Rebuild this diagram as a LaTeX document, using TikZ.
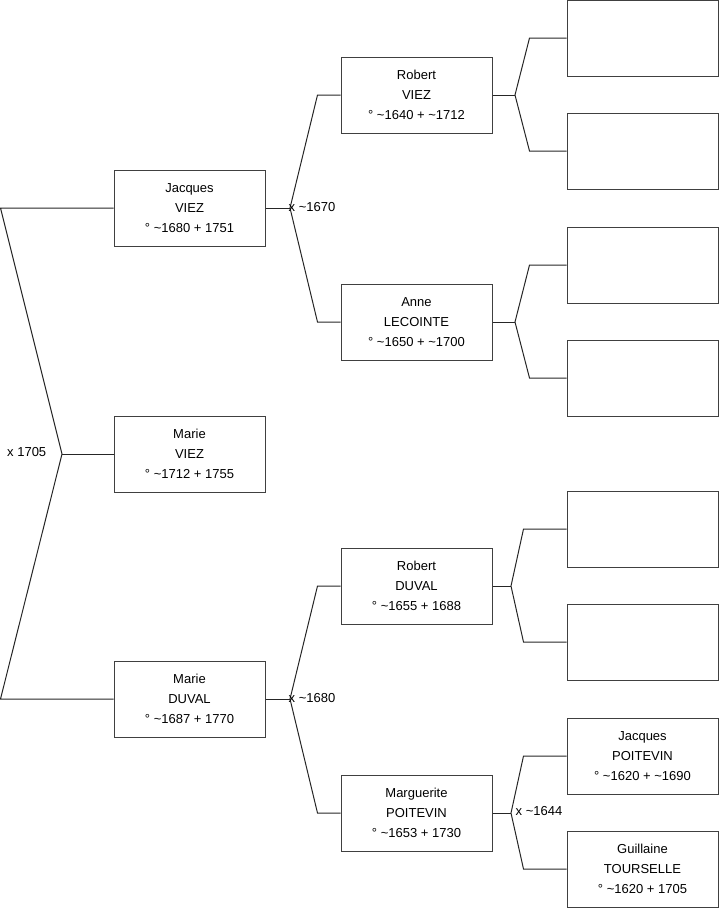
\documentclass[tikz,border=0pt]{standalone}
\usepackage{fontspec}
\setmainfont{Liberation Sans}
\begin{document}
\begin{tikzpicture}[x=1pt,y=-1pt,
  emptybox/.style={draw=black!75,line width=1pt,minimum width=151pt,minimum height=76pt,inner sep=0pt},
  person/.style={emptybox,align=center,font=\fontsize{13}{20}\selectfont},
  link/.style={draw=black!85,line width=1pt},
  mlabel/.style={anchor=west,inner sep=0pt,font=\fontsize{13}{15}\selectfont}]
\useasboundingbox (0,0) rectangle (719,908);
% column 1
\node[person] (j)  at (189.5,208) {Jacques\\VIEZ\\° \textasciitilde1680 + 1751};
\node[person] (mv) at (189.5,454) {Marie\\VIEZ\\° \textasciitilde1712 + 1755};
\node[person] (md) at (189.5,699) {Marie\\DUVAL\\° \textasciitilde1687 + 1770};
% column 2
\node[person] (rv) at (416.5,95)  {Robert\\VIEZ\\° \textasciitilde1640 + \textasciitilde1712};
\node[person] (al) at (416.5,322) {Anne\\LECOINTE\\° \textasciitilde1650 + \textasciitilde1700};
\node[person] (rd) at (416.5,586) {Robert\\DUVAL\\° \textasciitilde1655 + 1688};
\node[person] (mp) at (416.5,813) {Marguerite\\POITEVIN\\° \textasciitilde1653 + 1730};
% column 3
\node[emptybox] (e1) at (642.5,38)  {};
\node[emptybox] (e2) at (642.5,151) {};
\node[emptybox] (e3) at (642.5,265) {};
\node[emptybox] (e4) at (642.5,378) {};
\node[emptybox] (e5) at (642.5,529) {};
\node[emptybox] (e6) at (642.5,642) {};
\node[person] (jp) at (642.5,756) {Jacques\\POITEVIN\\° \textasciitilde1620 + \textasciitilde1690};
\node[person] (gt) at (642.5,869) {Guillaine\\TOURSELLE\\° \textasciitilde1620 + 1705};
% junction points
\coordinate (l1) at (0.5,208);
\coordinate (l2) at (0.5,699);
\coordinate (c0) at (62,454);
\coordinate (c1) at (290,208);
\coordinate (c2) at (290,699);
\coordinate (c3) at (515,95);
\coordinate (c4) at (515,322);
\coordinate (c5) at (511,586);
\coordinate (c6) at (511,813);
% left bracket
\draw[link] (j.west) -- (l1) -- (c0) -- (l2) -- (md.west);
\draw[link] (c0) -- (mv.west);
% Jacques VIEZ parents
\draw[link] (j.east) -- (c1);
\draw[link] (rv.west) -- ([xshift=-23pt]rv.west) -- (c1) -- ([xshift=-23pt]al.west) -- (al.west);
% Marie DUVAL parents
\draw[link] (md.east) -- (c2);
\draw[link] (rd.west) -- ([xshift=-23pt]rd.west) -- (c2) -- ([xshift=-23pt]mp.west) -- (mp.west);
% third generation
\draw[link] (rv.east) -- (c3);
\draw[link] (e1.west) -- ([xshift=-37pt]e1.west) -- (c3) -- ([xshift=-37pt]e2.west) -- (e2.west);
\draw[link] (al.east) -- (c4);
\draw[link] (e3.west) -- ([xshift=-37pt]e3.west) -- (c4) -- ([xshift=-37pt]e4.west) -- (e4.west);
\draw[link] (rd.east) -- (c5);
\draw[link] (e5.west) -- ([xshift=-43pt]e5.west) -- (c5) -- ([xshift=-43pt]e6.west) -- (e6.west);
\draw[link] (mp.east) -- (c6);
\draw[link] (jp.west) -- ([xshift=-43pt]jp.west) -- (c6) -- ([xshift=-43pt]gt.west) -- (gt.west);
% marriage labels
\node[mlabel] (x0) at (7,452) {x 1705};
\node[mlabel] (x1) at (288.5,207) {x \textasciitilde1670};
\node[mlabel] (x2) at (288.5,698) {x \textasciitilde1680};
\node[mlabel] (x3) at (515.5,811) {x \textasciitilde1644};
\end{tikzpicture}
\end{document}
